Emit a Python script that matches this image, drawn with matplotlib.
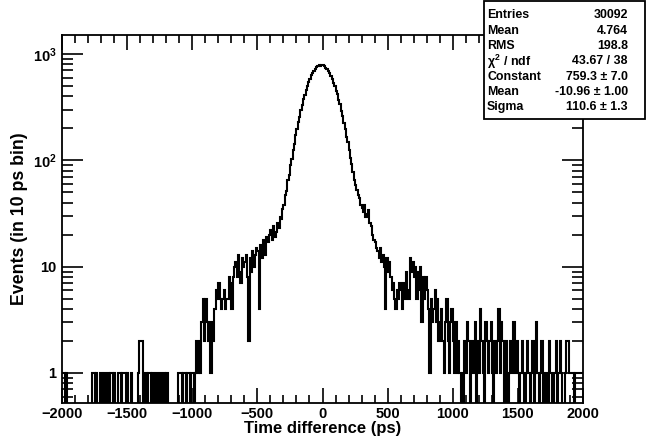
import numpy as np
import matplotlib
matplotlib.use('Agg')
import matplotlib.pyplot as plt
from matplotlib.patches import Rectangle
from matplotlib.ticker import FixedLocator, FixedFormatter, MultipleLocator

plt.rcParams['font.family'] = ['Liberation Sans', 'DejaVu Sans']
plt.rcParams['font.weight'] = 'bold'
plt.rcParams['mathtext.fontset'] = 'custom'
plt.rcParams['mathtext.rm'] = 'Liberation Sans:bold'
plt.rcParams['mathtext.it'] = 'Liberation Sans:bold'
plt.rcParams['mathtext.bf'] = 'Liberation Sans:bold'

# ---------------------------------------------------------------------------
# Data: 400 bins of 10 ps, -2000 .. 2000 ps (counts)
# ---------------------------------------------------------------------------
x_min, x_max, bin_w = -2000, 2000, 10

left_tail = [
    1, 1, 0, 1, 0, 0, 0, 0, 0, 0,        # -2000
    0, 0, 0, 0, 0, 0, 0, 0, 0, 0,        # -1900
    0, 0, 0, 1, 1, 0, 1, 0, 0, 1,        # -1800
    1, 0, 1, 1, 0, 1, 0, 1, 1, 0,        # -1700
    1, 0, 0, 1, 1, 0, 1, 1, 1, 0,        # -1600
    1, 0, 0, 1, 0, 0, 0, 0, 1, 2,        # -1500
    2, 2, 0, 0, 1, 0, 1, 1, 0, 1,        # -1400
    1, 0, 1, 1, 0, 1, 1, 0, 1, 0,        # -1300
    1, 0, 0, 0, 0, 0, 0, 0, 0, 1,        # -1200
    1, 1, 0, 1, 1, 0, 1, 1, 0, 1,        # -1100
    1, 0, 1, 2, 1, 2, 1, 3, 5, 2,        # -1000
    5, 3, 2, 3, 1, 3, 2, 4, 6, 5,        # -900
    7, 5, 4, 5, 6, 4, 5, 5, 8, 7,        # -800
    4, 8, 10, 11, 8, 13, 9, 7, 12, 10,   # -700
    11, 13, 8, 2, 12, 9, 14, 10, 13, 15,  # -600
    14, 4, 16, 12, 18, 15, 13, 19, 17, 20,  # -500
]

core = [
    22, 18, 24, 19, 21, 26, 23, 29, 28, 35,            # -400
    38, 47, 52, 65, 73, 91, 103, 126, 142, 173,        # -300
    195, 231, 256, 298, 329, 377, 411, 462, 496, 547,  # -200
    581, 629, 657, 698, 719, 752, 763, 782, 779, 791,  # -100
    781, 770, 744, 727, 690, 665, 620, 588, 538, 504,  # 0
    452, 419, 368, 337, 291, 263, 224, 199, 166, 148,  # 100
    124, 106, 92, 78, 66, 58, 53, 47, 44, 38,          # 200
    36, 33, 38, 29, 31, 34, 26, 24, 20, 18,            # 300
]

right_tail = [
    17, 15, 14, 12, 15, 11, 13, 10, 4, 12,  # 400
    9, 11, 8, 6, 7, 5, 4, 6, 5, 7,          # 500
    6, 4, 7, 5, 9, 6, 5, 12, 9, 11,         # 600
    8, 10, 5, 9, 6, 10, 3, 8, 5, 8,         # 700
    6, 4, 1, 5, 3, 4, 6, 3, 5, 2,           # 800
    3, 4, 2, 1, 3, 5, 2, 1, 3, 4,           # 900
    2, 1, 3, 1, 2, 1, 0, 1, 0, 2,           # 1000
    1, 3, 2, 0, 1, 2, 1, 3, 0, 2,           # 1100
    1, 4, 2, 1, 0, 3, 2, 1, 2, 3,           # 1200
    1, 0, 2, 1, 2, 4, 1, 3, 2, 0,           # 1300
    1, 2, 0, 1, 2, 1, 3, 3, 1, 2,           # 1400
    1, 0, 1, 2, 1, 0, 1, 2, 1, 0,           # 1500
    1, 2, 0, 1, 3, 1, 0, 1, 2, 0,           # 1600
    1, 0, 1, 0, 2, 1, 0, 0, 1, 2,           # 1700
    0, 1, 2, 1, 0, 0, 1, 2, 2, 1,           # 1800
    1, 1, 1, 0, 1, 1, 1, 1, 1, 1,           # 1900
]

stat_labels = ['Entries', 'Mean', 'RMS', r'$\chi^{2}$ / ndf',
               'Constant', 'Mean', 'Sigma']
stat_values = ['30092', '4.764', '198.8', '43.67 / 38',
               '759.3 \u00b1 7.0', '-10.96 \u00b1 1.00', '110.6 \u00b1 1.3']

counts = np.array(left_tail + core + right_tail, dtype=float)
edges = np.arange(x_min, x_max + bin_w, bin_w)

# ---------------------------------------------------------------------------
# Figure
# ---------------------------------------------------------------------------
W, H = 647, 446
fig = plt.figure(figsize=(W / 100, H / 100), dpi=100)
ax = fig.add_axes([62 / W, 43 / H, 521 / W, 368 / H])

# zero bins drop below the frame like ROOT does
plot_counts = np.where(counts > 0, counts, 1e-3)
ax.stairs(plot_counts, edges, baseline=None, color='black', linewidth=1.5)

ax.set_yscale('log')
ax.set_xlim(x_min, x_max)
ax.set_ylim(0.522, 1509)

ax.xaxis.set_major_locator(MultipleLocator(500))
ax.xaxis.set_minor_locator(MultipleLocator(100))
ax.yaxis.set_major_locator(FixedLocator([1, 10, 100, 1000]))
ax.yaxis.set_major_formatter(FixedFormatter(['1', '10', r'$10^{2}$', r'$10^{3}$']))
ax.yaxis.set_minor_locator(FixedLocator(
    [m * 10.0 ** e for e in range(-1, 4) for m in range(2, 10)]))
ax.yaxis.set_minor_formatter(FixedFormatter([]))

ax.tick_params(which='both', direction='in', top=True, right=True,
               labelsize=10.5, width=1.2, colors='black')
ax.tick_params(axis='x', which='major', length=11, pad=3)
ax.tick_params(axis='x', which='minor', length=6)
ax.tick_params(axis='y', which='major', length=15, pad=4)
ax.tick_params(axis='y', which='minor', length=8)
for lab in ax.get_xticklabels() + ax.get_yticklabels():
    lab.set_fontweight('bold')
for sp in ax.spines.values():
    sp.set_linewidth(1.3)

ax.set_xlabel('Time difference (ps)', fontsize=12, fontweight='bold', labelpad=0)
ax.set_ylabel('Events (in 10 ps bin)', fontsize=12.8, fontweight='bold', labelpad=3)

# stats box
bx0, bx1, by0, by1 = 484, 645, 1, 119
fig.patches.append(Rectangle((bx0 / W, 1 - by1 / H), (bx1 - bx0) / W,
                             (by1 - by0) / H, transform=fig.transFigure,
                             facecolor='white', edgecolor='black',
                             linewidth=1.3, zorder=5))
row_y = 15.5
for lab, val in zip(stat_labels, stat_values):
    fig.text(487 / W, 1 - row_y / H, lab, ha='left', va='center',
             fontsize=8.9, fontweight='bold', zorder=6)
    fig.text(628 / W, 1 - row_y / H, val, ha='right', va='center',
             fontsize=8.9, fontweight='bold', zorder=6)
    row_y += 15.3

fig.savefig('out.png', dpi=100)
